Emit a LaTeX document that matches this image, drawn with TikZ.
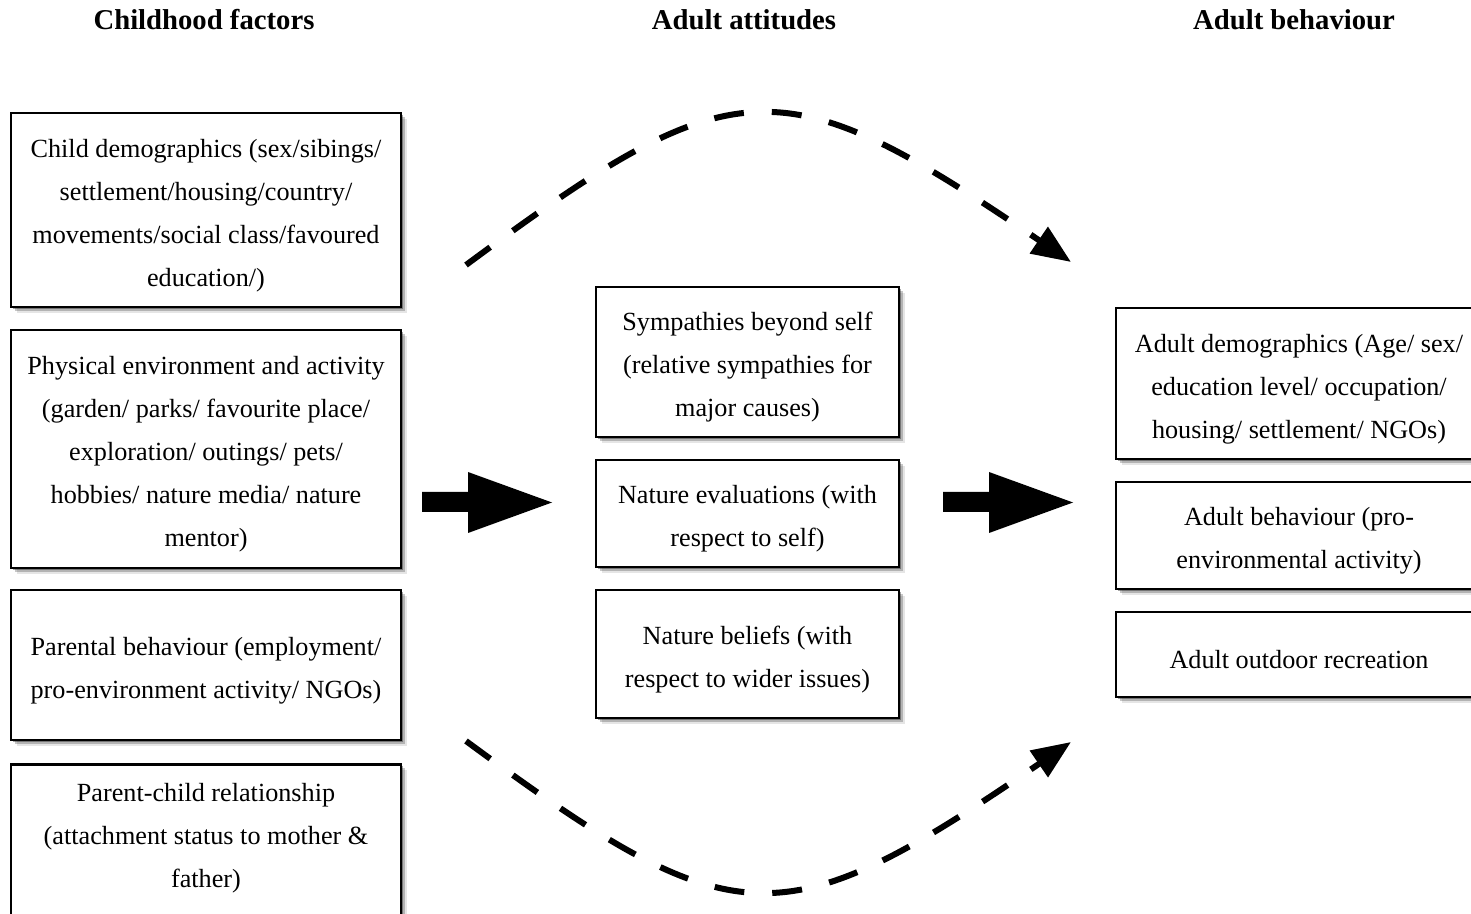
\documentclass[tikz,border=0pt]{standalone}
\usepackage{fontspec}
\setmainfont{Liberation Serif}
\usetikzlibrary{arrows.meta,shadows}
\begin{document}
\begin{tikzpicture}[x=1pt,y=1pt,
  box/.style={draw=black, line width=2.5pt, fill=white, inner sep=0pt,
    drop shadow={shadow xshift=2pt,shadow yshift=-2pt,opacity=.35,fill=black},
    drop shadow={shadow xshift=4pt,shadow yshift=-4pt,opacity=.22,fill=black},
    drop shadow={shadow xshift=6pt,shadow yshift=-6pt,opacity=.10,fill=black}},
  leftbox/.style={box, minimum width=390pt},
  midbox/.style={box, minimum width=303pt},
  rightbox/.style={box, minimum width=366pt},
  boxtext/.style={inner sep=0pt, align=center, yshift=-5.5pt,
    font=\fontsize{26.2}{43}\selectfont},
  heading/.style={inner sep=0pt, font=\fontsize{28.7}{34}\selectfont\bfseries},
  dashline/.style={line width=6pt, dash pattern=on 30pt off 28pt,
    -{Triangle[length=39pt,width=31pt]}},
  blockarrow/.style={fill=black}
]
\useasboundingbox (0,0) rectangle (1471,913);
\clip (0,0) rectangle (1471,913);

% column headings
\node[heading] (h1) at (204,893) {Childhood factors};
\node[heading] (h2) at (744,893) {Adult attitudes};
\node[heading] (h3) at (1294,893) {Adult behaviour};

% childhood factors
\node[leftbox, minimum height=194pt] (c1) at (206,703) {};
\node[boxtext] (c1t) at (c1)
  {Child demographics (sex/sibings/\\settlement/housing/country/\\movements/social class/favoured\\education/)};
\node[leftbox, minimum height=238pt] (c2) at (206,464) {};
\node[boxtext] (c2t) at (c2)
  {Physical environment and activity\\(garden/ parks/ favourite place/\\exploration/ outings/ pets/\\hobbies/ nature media/ nature\\mentor)};
\node[leftbox, minimum height=150pt] (c3) at (206,248) {};
\node[boxtext] (c3t) at (c3)
  {Parental behaviour (employment/\\pro-environment activity/ NGOs)};
\node[leftbox, minimum height=180pt, anchor=north] (c4) at (206,150) {};
\node[boxtext] (c4t) at (206,80)
  {Parent-child relationship\\(attachment status to mother \&\\father)};

% adult attitudes
\node[midbox, minimum height=150pt] (m1) at (747.5,551) {};
\node[boxtext] (m1t) at (m1)
  {Sympathies beyond self\\(relative sympathies for\\major causes)};
\node[midbox, minimum height=107pt] (m2) at (747.5,399.5) {};
\node[boxtext] (m2t) at (m2)
  {Nature evaluations (with\\respect to self)};
\node[midbox, minimum height=128pt] (m3) at (747.5,259) {};
\node[boxtext] (m3t) at (m3)
  {Nature beliefs (with\\respect to wider issues)};

% adult behaviour
\node[rightbox, minimum height=151pt] (r1) at (1299,529.5) {};
\node[boxtext] (r1t) at (r1)
  {Adult demographics (Age/ sex/\\education level/ occupation/\\housing/ settlement/ NGOs)};
\node[rightbox, minimum height=107pt] (r2) at (1299,377.5) {};
\node[boxtext] (r2t) at (r2)
  {Adult behaviour (pro-\\environmental activity)};
\node[rightbox, minimum height=85pt] (r3) at (1299,258.5) {};
\node[boxtext] (r3t) at (r3)
  {Adult outdoor recreation};

% block arrows between the columns
\fill[blockarrow] (422,401) -- (468,401) -- (468,380) -- (552,410.5)
  -- (468,441) -- (468,421) -- (422,421) -- cycle;
\fill[blockarrow] (943,401) -- (989,401) -- (989,380) -- (1073,410.5)
  -- (989,441) -- (989,421) -- (943,421) -- cycle;

% dashed bypass arcs
\coordinate (ts) at (466,648);
\coordinate (ta) at (736,848);
\coordinate (tb) at (781,848);
\coordinate (te) at (1071,651);
\draw[dashline] (ts) .. controls (ta) and (tb) .. (te);

\coordinate (bs) at (466,172);
\coordinate (ba) at (736,-27);
\coordinate (bb) at (781,-27);
\coordinate (be) at (1071,171);
\draw[dashline] (bs) .. controls (ba) and (bb) .. (be);
\end{tikzpicture}
\end{document}
